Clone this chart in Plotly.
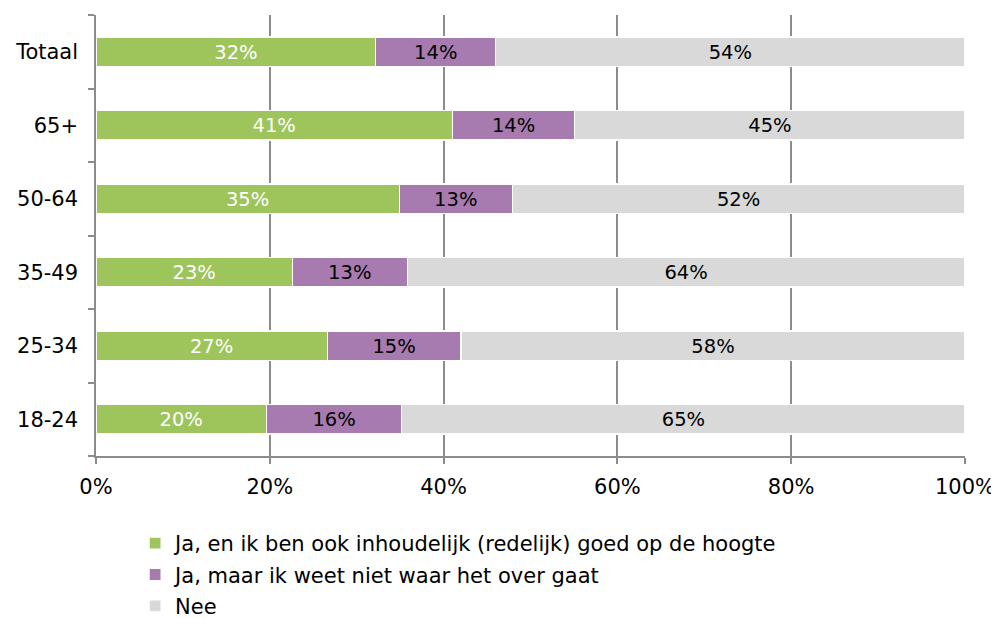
import plotly.graph_objects as go

categories = ["Totaal", "65+", "50-64", "35-49", "25-34", "18-24"]
ja_goed = [32.2, 41.0, 34.9, 22.6, 26.6, 19.6]
ja_niet = [13.8, 14.1, 13.0, 13.2, 15.4, 15.6]
nee = [54.0, 44.9, 52.1, 64.2, 58.0, 64.8]
series_names = [
    "Ja, en ik ben ook inhoudelijk (redelijk) goed op de hoogte",
    "Ja, maar ik weet niet waar het over gaat",
    "Nee",
]
colors = ["#9DC55C", "#A77BAF", "#D9D9D9"]
text_colors = ["white", "black", "black"]
x_ticks = [0, 20, 40, 60, 80, 100]
x_tick_labels = ["0%", "20%", "40%", "60%", "80%", "100%"]

FONT = "DejaVu Sans, Verdana, sans-serif"
FS = 21

fig = go.Figure()
for i, (name, vals, col, tcol) in enumerate(zip(series_names, [ja_goed, ja_niet, nee], colors, text_colors)):
    fig.add_trace(go.Bar(
        y=categories, x=vals, name=name, orientation="h",
        legendgroup=f"g{i}",
        marker=dict(color=col, line=dict(color="white", width=1.2)),
        text=[f"{v:.0f}%" for v in vals],
        textposition="inside", insidetextanchor="middle",
        textfont=dict(color=tcol, size=20, family=FONT),
        hoverinfo="skip",
    ))

fig.update_layout(
    barmode="stack",
    bargap=0.6,
    width=991, height=611,
    margin=dict(l=88, r=34, t=7, b=163, autoexpand=False),
    plot_bgcolor="white", paper_bgcolor="white",
    font=dict(family=FONT, size=FS, color="black"),
    uniformtext=dict(mode=False),
    legend=dict(
        orientation="v", traceorder="grouped",
        x=0.045, xanchor="left", y=-0.152, yanchor="top",
        font=dict(size=FS, family=FONT), itemwidth=30,
        tracegroupgap=1,
    ),
    xaxis=dict(
        range=[0, 100], tickvals=x_ticks, ticktext=x_tick_labels,
        showgrid=True, gridcolor="#8C8C8C", gridwidth=1.5,
        showline=True, linecolor="#8C8C8C", linewidth=1.5,
        ticks="outside", ticklen=6, tickcolor="#8C8C8C", tickwidth=1.5,
        zeroline=False, fixedrange=True, ticklabelstandoff=5,
        automargin=False,
    ),
    yaxis=dict(
        categoryorder="array", categoryarray=categories[::-1],
        showline=True, linecolor="#8C8C8C", linewidth=1.5,
        ticks="outside", ticklen=6, tickcolor="#8C8C8C", tickwidth=1.5,
        tickson="boundaries", showgrid=False, fixedrange=True,
        ticklabelstandoff=12, automargin=False,
    ),
)

fig.write_html("out.html")
